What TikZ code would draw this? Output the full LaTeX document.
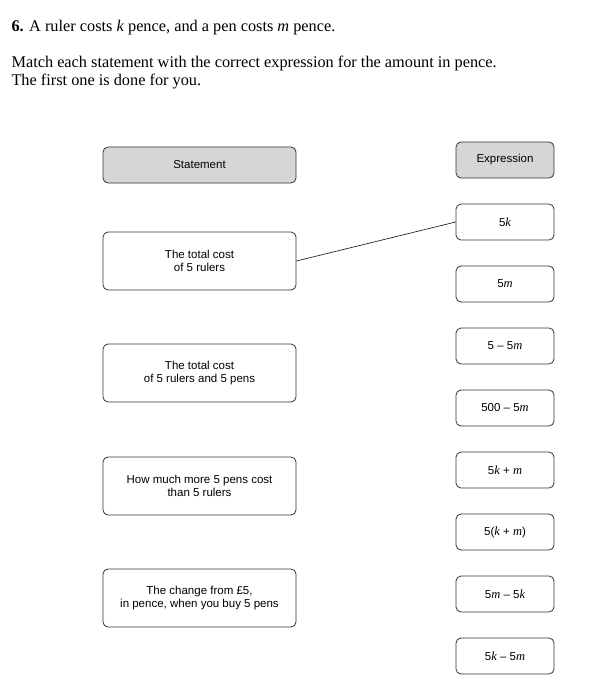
\documentclass[tikz,border=0pt]{standalone}
\usepackage{fontspec}
\setmainfont{Liberation Serif}
\newfontfamily\boxfont{Liberation Sans}
\newfontfamily\varfont{Liberation Serif Italic}
\newcommand{\vv}[1]{{\varfont\fontsize{12.5}{13}\selectfont #1}}
\begin{document}
\begin{tikzpicture}[x=1pt,y=-1pt,
  card/.style={draw=black!80, line width=0.8pt, rounded corners=5pt, fill=white, inner sep=0pt,
     font=\boxfont\fontsize{11.5}{13}\selectfont, align=center},
  leftcard/.style={card, minimum width=193pt, minimum height=58pt},
  rightcard/.style={card, minimum width=98pt, minimum height=36pt},
  headcard/.style={fill=black!16},
  link/.style={draw=black!85, line width=0.7pt},
  prose/.style={anchor=base west, align=left, font=\fontsize{16.3}{18}\selectfont}]
\useasboundingbox (0,0) rectangle (615,699);
\fill[white] (0,0) rectangle (615,699);
\node[prose] (q) at (8,31) {\textbf{6.} A ruler costs \textit{k} pence, and a pen costs \textit{m} pence.};
\node[prose] (ins) at (8,67) {Match each statement with the correct expression for the amount in pence.};
\node[prose] (ins2) at (8,85) {The first one is done for you.};

\node[leftcard, headcard, minimum height=36pt] (st) at (199.5,165) {Statement};
\node[leftcard] (s1) at (199.5,261) {The total cost\\of 5 rulers};
\node[leftcard] (s2) at (199.5,373) {The total cost\\of 5 rulers and 5 pens};
\node[leftcard] (s3) at (199.5,486) {How much more 5 pens cost\\than 5 rulers};
\node[leftcard] (s4) at (199.5,598) {The change from £5,\\in pence, when you buy 5 pens};

\node[rightcard, headcard] (ex) at (505,160) {Expression};
\node[rightcard] (e1) at (505,222) {5\vv{k}};
\node[rightcard] (e2) at (505,284) {5\vv{m}};
\node[rightcard] (e3) at (505,346) {5 – 5\vv{m}};
\node[rightcard] (e4) at (505,408) {500 – 5\vv{m}};
\node[rightcard] (e5) at (505,470) {5\vv{k} + \vv{m}};
\node[rightcard] (e6) at (505,532) {5(\vv{k} + \vv{m})};
\node[rightcard] (e7) at (505,594) {5\vv{m} – 5\vv{k}};
\node[rightcard] (e8) at (505,656) {5\vv{k} – 5\vv{m}};

\draw[link] (s1.east) -- (e1.west);
\end{tikzpicture}
\end{document}
